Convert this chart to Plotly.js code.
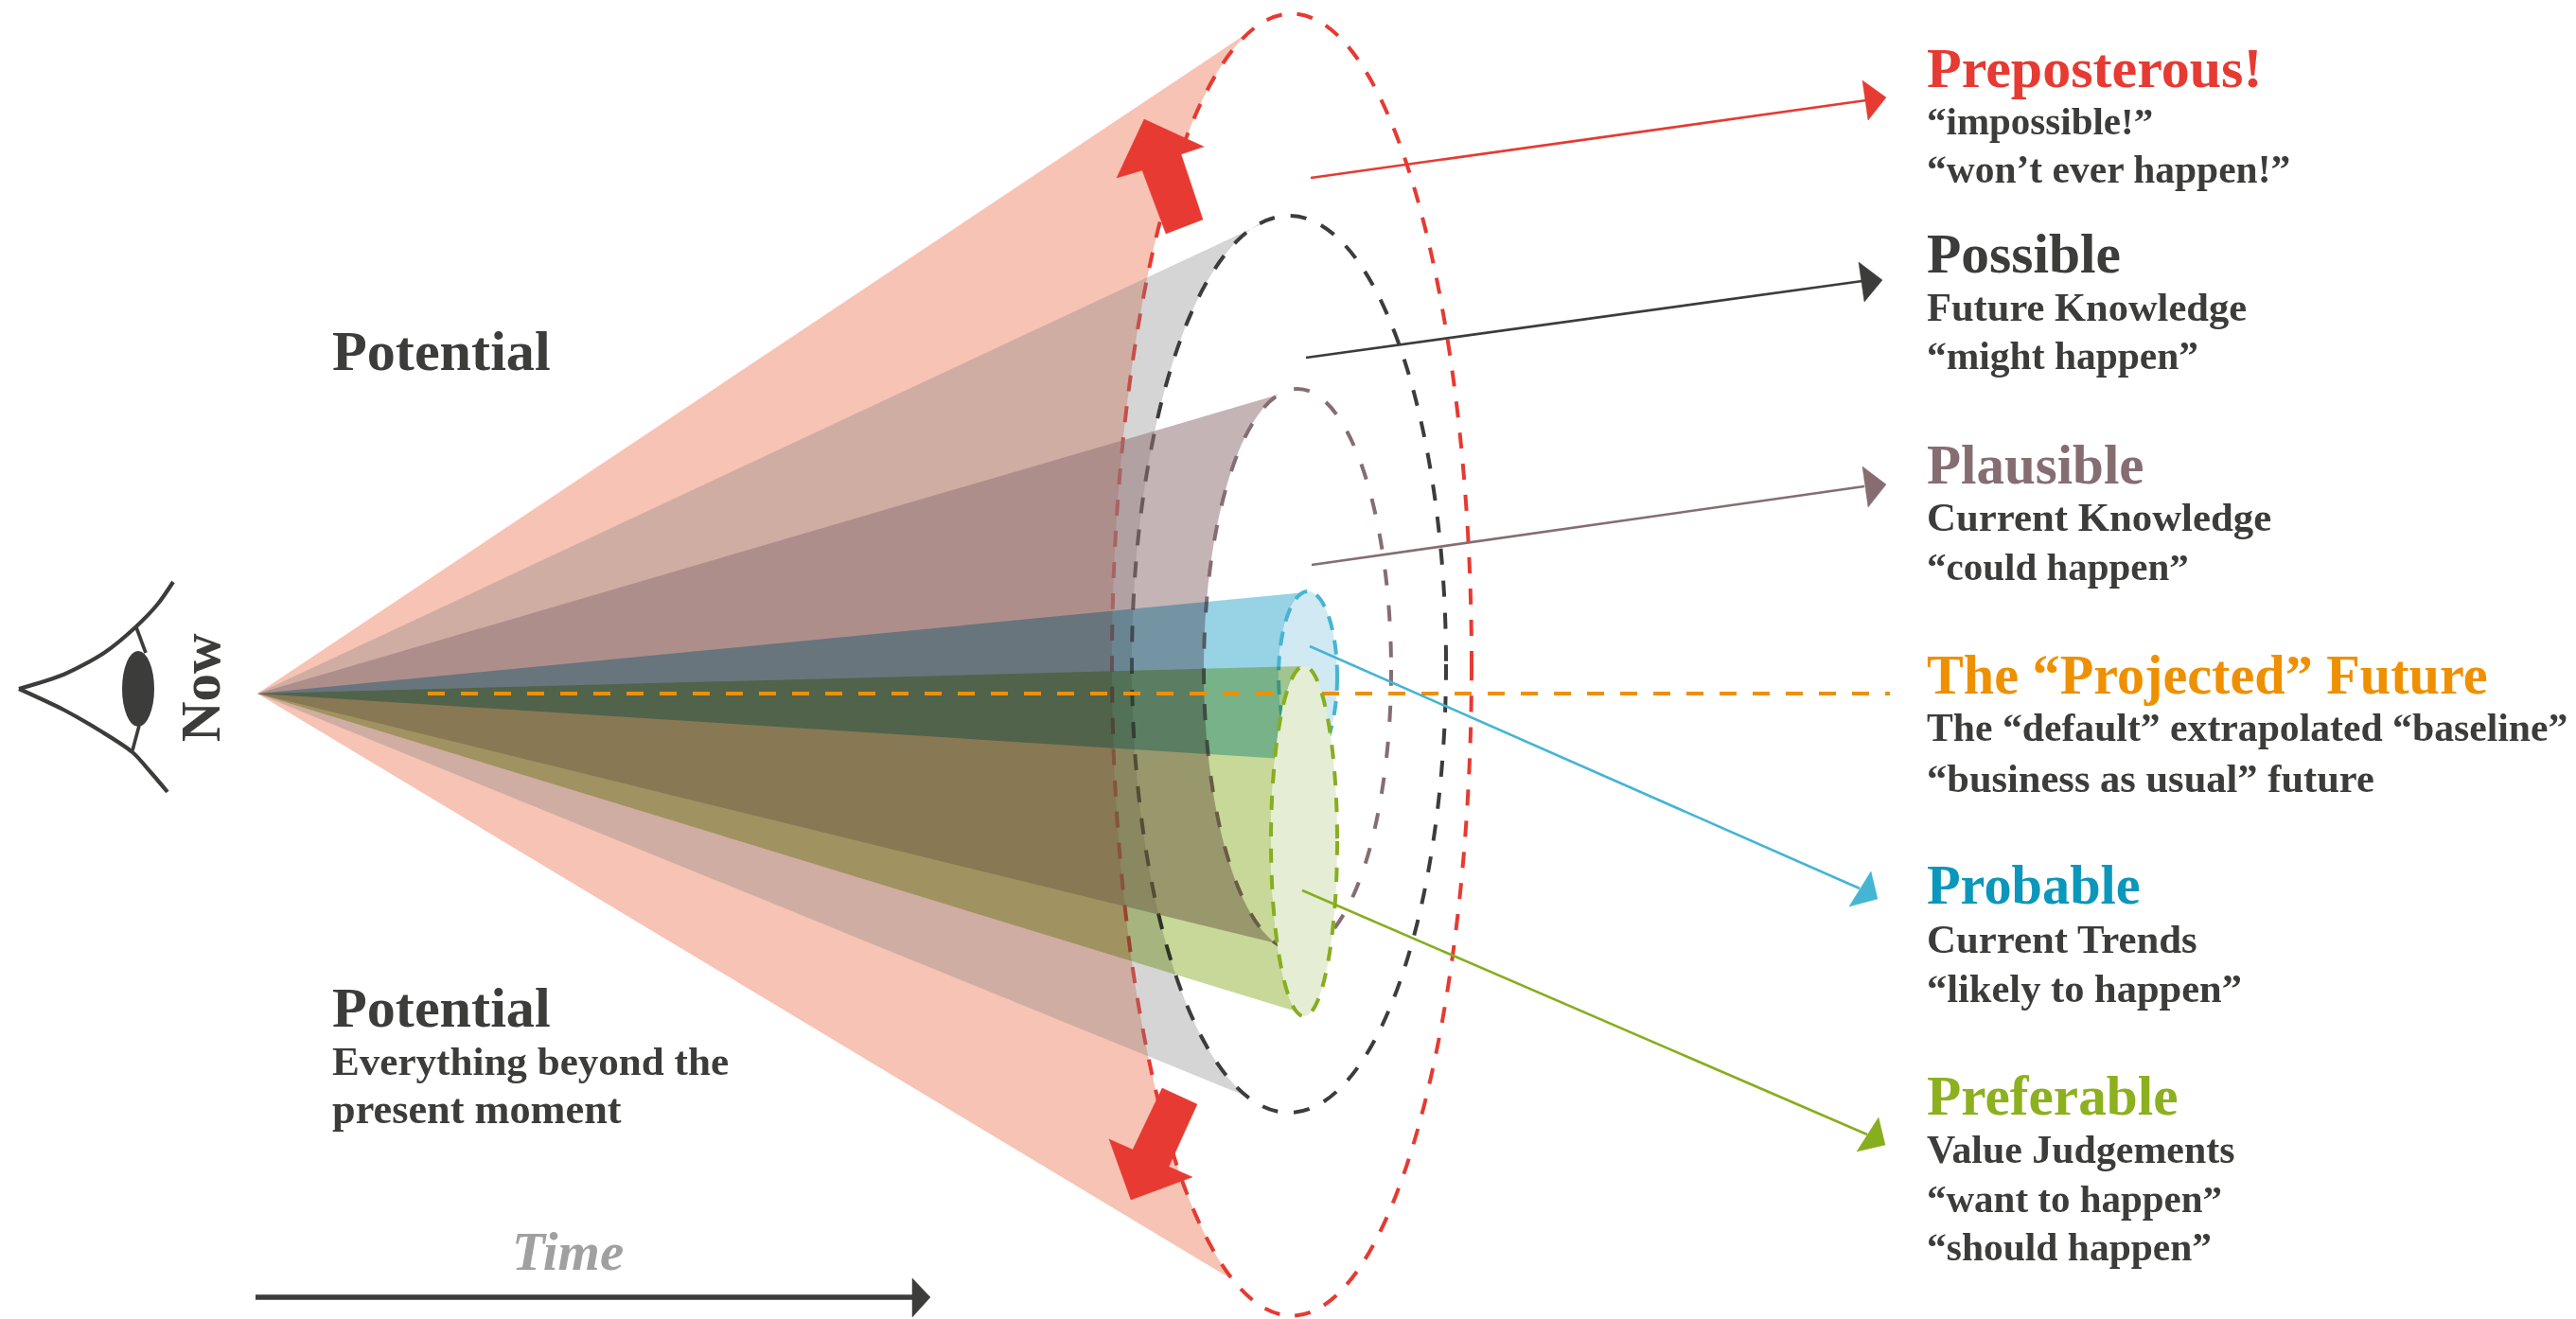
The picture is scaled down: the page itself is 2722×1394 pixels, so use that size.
<!DOCTYPE html>
<html>
<head>
<meta charset="utf-8">
<script src="https://cdn.plot.ly/plotly-3.0.1.min.js"></script>
<style>html,body{margin:0;padding:0;background:#fff}</style>
</head>
<body>
<div id="chart" style="width:2722px;height:1394px"></div>
<script>
// ---- values (diagram units = reference pixels) ----
const futures   = ['Preposterous', 'Possible', 'Plausible', 'Probable', 'Preferable'];
const centreX   = [1365, 1362, 1371, 1382, 1378];
const centreY   = [702.5, 702, 708, 715, 889];
const radiusX   = [190, 166, 99, 31, 35];
const radiusY   = [688, 474, 297, 90, 185];
const upperTouchX = [1322, 1348, 1351, 1377, 1378];
const lowerTouchX = [1303, 1318, 1348, 1376, 1370];
const apex = [272, 733];

const fills     = ['rgba(229,84,41,0.35)', 'rgba(128,128,128,0.33)', 'rgba(146,116,120,0.54)', 'rgb(152,210,229)', 'rgb(199,216,152)'];
const multiply  = [false, false, false, true, true];
const strokes   = ['#e63a32', '#3c3c3b', '#866d72', '#45b5d3', '#86ae1f'];
const inner     = [null, null, null, '#d0e9f2', '#e5edd5'];
const dashes    = ['17px,16px', '17px,17px', '17px,21px', '15px,11px', '15px,13px'];

const leadStartX = [1385, 1380, 1386, 1384, 1376];
const leadStartY = [188, 378, 597, 683, 941];
const leadEndX   = [1972, 1968, 1970, 1965, 1973];
const leadEndY   = [106, 297, 514, 939, 1199];
const headX = [[1968,1993,1974],[1964,1989,1970],[1968,1993,1974],[1977,1984,1954],[1985,1992,1962]];
const headY = [[85,103,127],[277,296,319],[493,512,536],[921,950,958],[1181,1210,1217]];

const projectedX = [452, 1997];
const projectedY = [733, 733];

const pushUpX = [1209,1272,1248,1271,1232,1207,1180];
const pushUpY = [126,155,163,232,247,180,188];
const pushDownX = [1228,1265,1235,1260,1195,1172,1197];
const pushDownY = [1150,1167,1233,1244,1268,1204,1215];

const lidUpperX = [20,67,110,143,167,183];
const lidUpperY = [728,713,690,663,638,615];
const lidLowerX = [20,67,107,140,160,177];
const lidLowerY = [728,750,773,795,817,837];
const irisUpX = [144,154]; const irisUpY = [663,690];
const irisLowX = [147,140]; const irisLowY = [767,793];
const pupil = {x:146, y:728, rx:17, ry:40};

const timeLineX = [270, 966]; const timeLineY = [1371, 1371];
const timeHeadX = [964, 983, 964]; const timeHeadY = [1351, 1371, 1392];

const labelText = [
  'Preposterous!','“impossible!”','“won’t ever happen!”',
  'Possible','Future Knowledge','“might happen”',
  'Plausible','Current Knowledge','“could happen”',
  'The “Projected” Future','The “default” extrapolated “baseline”','“business as usual” future',
  'Probable','Current Trends','“likely to happen”',
  'Preferable','Value Judgements','“want to happen”','“should happen”',
  'Potential','Potential','Everything beyond the','present moment'
];
const labelX = [2034,2034,2034,2034,2034,2034,2034,2034,2034,2034,2034,2034,2034,2034,2034,2034,2034,2034,2034,349,349,349,349];
const labelY = [72,128,179,268,324,376,491,546,599,713,769,822,935,992,1044,1158,1215,1267,1318,370,1064,1121,1172];
const labelSize = [60,41,41.5,59.5,42.5,41.5,59,42.8,41,58.2,41.7,42.5,58.3,42.8,42.5,59.3,41.9,41,41.5,60.2,60.2,43.1,44.3];
const labelColor = ['#e63a32','#3c3c3b','#3c3c3b','#3c3c3b','#3c3c3b','#3c3c3b','#866d72','#3c3c3b','#3c3c3b','#ee9000','#3c3c3b','#3c3c3b','#0b97bb','#3c3c3b','#3c3c3b','#8db01e','#3c3c3b','#3c3c3b','#3c3c3b','#3c3c3b','#3c3c3b','#3c3c3b','#3c3c3b'];

// ---- drawing ----
const SERIF = '"Liberation Serif", serif';
function coneSurface(i){
  const cx=centreX[i], cy=centreY[i], rx=radiusX[i], ry=radiusY[i];
  const angle = x => Math.acos(Math.max(-1,Math.min(1,(x-cx)/rx)));
  const a0 = angle(upperTouchX[i]), a1 = angle(lowerTouchX[i]);
  const start = -a0, end = -(2*Math.PI - a1);   // sweeps over the left side
  let p = 'M '+apex[0]+' '+apex[1];
  const n = 120;
  for(let k=0;k<=n;k++){
    const t = start + (end-start)*k/n;
    p += ' L '+(cx+rx*Math.cos(t)).toFixed(2)+' '+(cy+ry*Math.sin(t)).toFixed(2);
  }
  return p+' Z';
}
const shapes = [];
const blendIndexes = [];
function ring(i, fill){
  return {type:'circle', xref:'x', yref:'y', layer:'below',
    x0:centreX[i]-radiusX[i], x1:centreX[i]+radiusX[i], y0:centreY[i]-radiusY[i], y1:centreY[i]+radiusY[i],
    fillcolor: fill||'rgba(0,0,0,0)', line:{color:strokes[i], width:4, dash:dashes[i]}};
}
futures.forEach((name,i)=>{
  if(multiply[i]) blendIndexes.push(shapes.length);
  shapes.push({type:'path', xref:'x', yref:'y', layer:'below', path:coneSurface(i), fillcolor:fills[i], line:{width:0}});
  if(i===4){
    shapes.push({type:'line', xref:'x', yref:'y', layer:'below', x0:projectedX[0], x1:projectedX[1], y0:projectedY[0], y1:projectedY[1],
      line:{color:'#ee9000', width:4, dash:'18px,17px'}});
  }
  shapes.push(ring(i, inner[i]));
});
shapes.push({type:'circle', xref:'x', yref:'y', layer:'below', x0:pupil.x-pupil.rx, x1:pupil.x+pupil.rx, y0:pupil.y-pupil.ry, y1:pupil.y+pupil.ry, fillcolor:'#3c3c3b', line:{width:0}});

const traces = [];
function line(x,y,color,width,shape){
  traces.push({type:'scatter', mode:'lines', x:x, y:y, hoverinfo:'skip', line:{color:color, width:width, shape:shape||'linear', smoothing:0.8}});
}
function poly(x,y,color){
  traces.push({type:'scatter', mode:'lines', x:x.concat([x[0]]), y:y.concat([y[0]]), fill:'toself', fillcolor:color, hoverinfo:'skip', line:{color:color, width:0.5}});
}
futures.forEach((name,i)=>{
  line([leadStartX[i],leadEndX[i]],[leadStartY[i],leadEndY[i]],strokes[i],2.6);
  poly(headX[i],headY[i],strokes[i]);
});
poly(pushUpX,pushUpY,'#e63a32');
poly(pushDownX,pushDownY,'#e63a32');
line(lidUpperX,lidUpperY,'#3c3c3b',4.2,'spline');
line(lidLowerX,lidLowerY,'#3c3c3b',4.2,'spline');
line(irisUpX,irisUpY,'#3c3c3b',3.6);
line(irisLowX,irisLowY,'#3c3c3b',3.6);
line(timeLineX,timeLineY,'#3c3c3b',5.5);
poly(timeHeadX,timeHeadY,'#3c3c3b');

const annotations = labelText.map((t,i)=>({
  text:t, x:labelX[i], y:labelY[i], xref:'x', yref:'y', xanchor:'left', yanchor:'middle', showarrow:false,
  font:{family:SERIF, size:labelSize[i], color:labelColor[i], weight:700}
}));
annotations.push({text:'Now', x:212, y:727, xref:'x', yref:'y', xanchor:'center', yanchor:'middle', textangle:-90, showarrow:false,
  font:{family:SERIF, size:59, color:'#3c3c3b', weight:700}});
annotations.push({text:'<i>Time</i>', x:600, y:1322, xref:'x', yref:'y', xanchor:'center', yanchor:'middle', showarrow:false,
  font:{family:SERIF, size:57, color:'#a0a0a0', weight:700}});

const layout = {
  width:2722, height:1394, autosize:false, showlegend:false, hovermode:false,
  margin:{l:0,r:0,t:0,b:0,pad:0}, paper_bgcolor:'#ffffff', plot_bgcolor:'#ffffff',
  xaxis:{range:[0,2722], visible:false, fixedrange:true},
  yaxis:{range:[1394,0], visible:false, fixedrange:true},
  shapes:shapes, annotations:annotations
};
function blend(){
  blendIndexes.forEach(n=>{
    document.querySelectorAll('#chart .shapelayer [data-index="'+n+'"]').forEach(el=>{
      el.style.mixBlendMode='multiply';
      if(el.parentNode && !el.parentNode.classList.contains('shapelayer')) el.parentNode.style.mixBlendMode='multiply';
    });
  });
}
Plotly.newPlot('chart', traces, layout, {displayModeBar:false, staticPlot:true}).then(blend);
blend();
</script>
</body>
</html>
